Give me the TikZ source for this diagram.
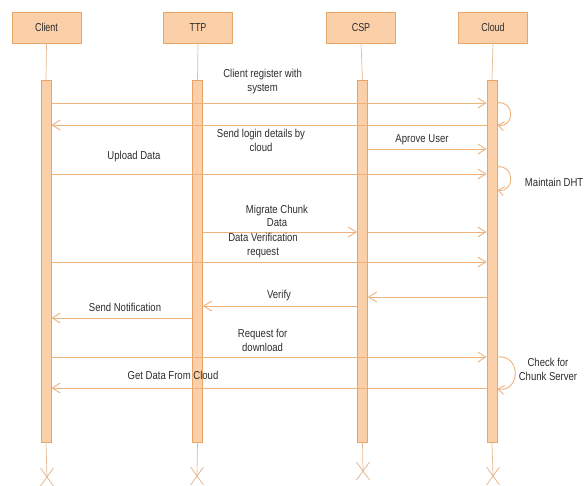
\documentclass[tikz,border=0pt]{standalone}
\usepackage{fontspec}
\setmainfont{Liberation Sans}
\usetikzlibrary{arrows.meta}
\definecolor{peach}{RGB}{251,207,168}
\definecolor{edge}{RGB}{232,165,105}
\definecolor{wire}{RGB}{238,178,125}
\definecolor{life}{RGB}{230,185,145}
\definecolor{ink}{RGB}{45,45,45}
\tikzset{
  x=1pt, y=-1pt,
  head/.style={draw=edge, fill=peach, line width=0.8pt, minimum width=69pt, minimum height=31pt, inner sep=0pt, font=\fontsize{11.5}{13}\selectfont, text=ink},
  bar/.style={draw=edge, fill=peach, line width=0.8pt, minimum width=10pt, inner sep=0pt},
  lifeline/.style={draw=life, line width=0.7pt},
  msg/.style={draw=wire, line width=0.9pt, -{Straight Barb[length=8pt,width=10pt]}},
  selfloop/.style={draw=wire, line width=0.9pt, -{Straight Barb[length=6pt,width=9pt]}},
  lbl/.style={font=\fontsize{11.5}{13.5}\selectfont, text=ink, align=center, inner sep=0pt, xscale=0.83},
  xmark/.style={draw=life, line width=0.8pt}
}
\begin{document}
\begin{tikzpicture}
\useasboundingbox (0,0) rectangle (584,485);
\fill[white] (0,0) rectangle (584,485);
% heads
\node[head] (hcl) at (46.5,27.5) {\scalebox{0.78}[1]{Client}};
\node[head] (htt) at (198,27.5) {\scalebox{0.78}[1]{TTP}};
\node[head] (hcs) at (361,27.5) {\scalebox{0.78}[1]{CSP}};
\node[head] (hcd) at (493,27.5) {\scalebox{0.78}[1]{Cloud}};
% bars
\node[bar, minimum height=362pt] (bcl) at (46,261) {};
\node[bar, minimum height=362pt] (btt) at (197.5,261) {};
\node[bar, minimum height=362pt] (bcs) at (362.5,261) {};
\node[bar, minimum height=362pt] (bcd) at (492,261) {};
% end marks
\coordinate (xcl) at (47,477);
\coordinate (xtt) at (197,476);
\coordinate (xcs) at (363,471);
\coordinate (xcd) at (493,476);
\draw[lifeline] (hcl.south) -- (bcl.north);
\draw[lifeline] (htt.south) -- (btt.north);
\draw[lifeline] (hcs.south) -- (bcs.north);
\draw[lifeline] (hcd.south) -- (bcd.north);
\draw[lifeline] (bcl.south) -- (xcl);
\draw[lifeline] (btt.south) -- (xtt);
\draw[lifeline] (bcs.south) -- (xcs);
\draw[lifeline] (bcd.south) -- (xcd);
\foreach \c in {xcl,xtt,xcs,xcd}{
  \draw[xmark] ([shift={(-6.5,-9)}]\c) -- ([shift={(6.5,9)}]\c);
  \draw[xmark] ([shift={(6.5,-9)}]\c) -- ([shift={(-6.5,9)}]\c);
}
% messages
\draw[msg] (bcl.east |- 0,103) -- (bcd.west |- 0,103);
\draw[selfloop] (bcd.east |- 0,103) .. controls (515,100) and (515,128) .. (bcd.east |- 0,125);
\draw[msg] (bcd.west |- 0,125) -- (bcl.east |- 0,125);
\draw[msg] (bcs.east |- 0,149) -- (bcd.west |- 0,149);
\draw[msg] (bcl.east |- 0,174) -- (bcd.west |- 0,174);
\draw[selfloop] (bcd.east |- 0,167) .. controls (515,164) and (515,193) .. (bcd.east |- 0,190);
\draw[msg] (btt.east |- 0,232) -- (bcs.west |- 0,232);
\draw[msg] (bcs.east |- 0,232) -- (bcd.west |- 0,232);
\draw[msg] (bcl.east |- 0,262) -- (bcd.west |- 0,262);
\draw[msg] (bcd.west |- 0,297) -- (bcs.east |- 0,297);
\draw[msg] (bcs.west |- 0,306) -- (btt.east |- 0,306);
\draw[msg] (btt.west |- 0,318) -- (bcl.east |- 0,318);
\draw[msg] (bcl.east |- 0,357) -- (bcd.west |- 0,357);
\draw[selfloop] (bcd.east |- 0,357) .. controls (521,354) and (521,392) .. (bcd.east |- 0,389);
\draw[msg] (bcd.west |- 0,388) -- (bcl.east |- 0,388);
% labels
\node[lbl] (l1) at (262.6,81.5) {Client register with\\system};
\node[lbl] (l2) at (261,140.5) {Send login details by\\cloud};
\node[lbl] (l3) at (422,139.5) {Aprove User};
\node[lbl] (l4) at (134,156.7) {Upload Data};
\node[lbl, anchor=east] (l5) at (583.5,182) {Maintain DHT};
\node[lbl] (l6) at (277,216) {Migrate Chunk\\Data};
\node[lbl] (l7) at (263,245.5) {Data Verification\\request};
\node[lbl] (l8) at (279,296) {Verify};
\node[lbl] (l9) at (125,307.7) {Send Notification};
\node[lbl] (l10) at (262.6,340.5) {Request for\\download};
\node[lbl] (l11) at (548,369.5) {Check for\\Chunk Server};
\node[lbl] (l12) at (173,375) {Get Data From Cloud};
\end{tikzpicture}
\end{document}
